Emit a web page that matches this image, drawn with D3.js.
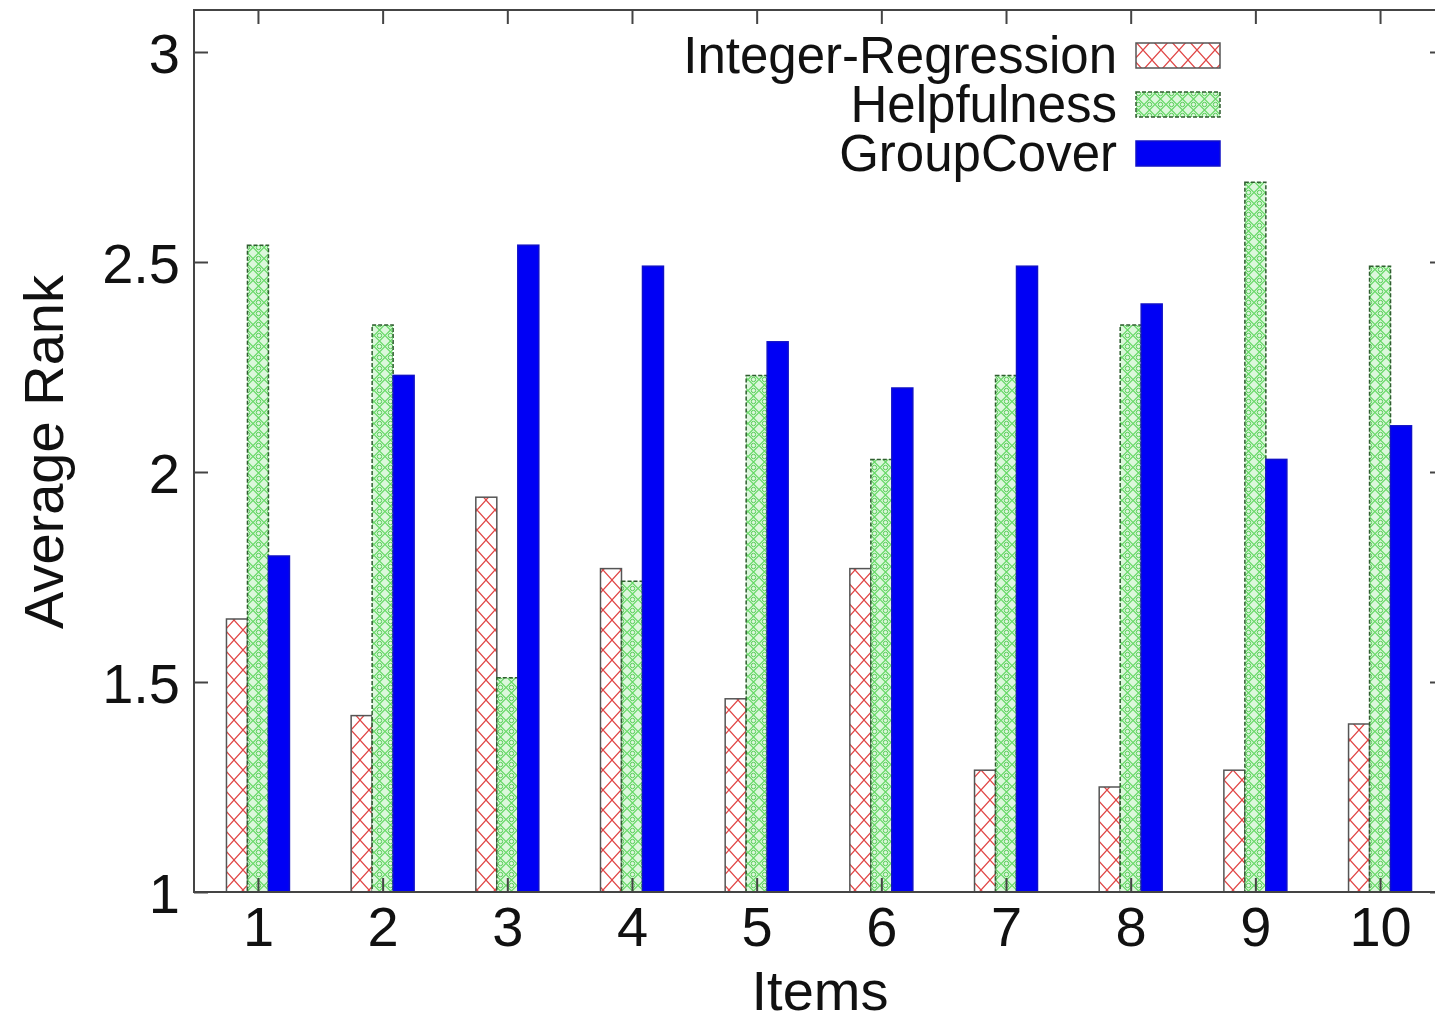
<!DOCTYPE html>
<html>
<head>
<meta charset="utf-8">
<script src="https://cdn.jsdelivr.net/npm/d3@7"></script>
<style>
  body { margin: 0; background: #fff; }
  svg { display: block; }
  text { font-family: "Liberation Sans", Arial, sans-serif; fill: #111; }
</style>
</head>
<body>
<svg id="chart" width="1435" height="1022"></svg>
<script>
// data
var items = [1, 2, 3, 4, 5, 6, 7, 8, 9, 10]
var seriesNames = ["Integer-Regression", "Helpfulness", "GroupCover"]
var integerRegression = [1.65, 1.42, 1.94, 1.77, 1.46, 1.77, 1.29, 1.25, 1.29, 1.40]
var helpfulness       = [2.54, 2.35, 1.51, 1.74, 2.23, 2.03, 2.23, 2.35, 2.69, 2.49]
var groupCover        = [1.80, 2.23, 2.54, 2.49, 2.31, 2.20, 2.49, 2.40, 2.03, 2.11]
var yTicks = [1, 1.5, 2, 2.5, 3]
var yTickLabels = ["1", "1.5", "2", "2.5", "3"]

var seriesValues = [integerRegression, helpfulness, groupCover]

var svg = d3.select("#chart")
// note: "top" is taken by window.top, so use plot* names
var plotLeft = 194, plotRight = 1444, plotTop = 10, plotBottom = 892

var x = d3.scaleLinear().domain([0.487, 10.513]).range([plotLeft, plotRight])
var y = d3.scaleLinear().domain([1, 3.1]).range([plotBottom, plotTop])
var groupW = x(1.2526) - x(0.7474)
var sub = d3.scaleBand().domain(seriesNames).range([-groupW / 2, groupW / 2])

// patterns
var defs = svg.append("defs")
var pr = defs.append("pattern").attr("id", "redHatch")
    .attr("patternUnits", "userSpaceOnUse").attr("width", 18).attr("height", 20)
pr.append("rect").attr("width", 18).attr("height", 20).attr("fill", "#fff")
pr.append("path").attr("d", "M0,0 L18,20 M18,0 L0,20")
    .attr("stroke", "#e04545").attr("stroke-width", 1.2).attr("fill", "none")

var pg = defs.append("pattern").attr("id", "greenHatch")
    .attr("patternUnits", "userSpaceOnUse").attr("width", 11).attr("height", 11)
pg.append("rect").attr("width", 11).attr("height", 11).attr("fill", "#dcf7dc")
pg.append("path").attr("d", "M0,5.5 L5.5,0 L11,5.5 L5.5,11 Z")
    .attr("stroke", "#66d966").attr("stroke-width", 1.2).attr("fill", "none")
pg.append("circle").attr("cx", 5.5).attr("cy", 5.5).attr("r", 2.2)
    .attr("fill", "none").attr("stroke", "#55cc55").attr("stroke-width", 1)

var fills = ["url(#redHatch)", "url(#greenHatch)", "#0000f5"]
var strokes = ["#555", "#2f5e2f", "#1010c8"]
var dashes = [null, "4,2", null]

// bars
var bars = svg.append("g")
seriesValues.forEach(function(vals, s) {
    bars.selectAll(".s" + s)
        .data(vals)
        .enter()
            .append("rect")
            .attr("x", function(d, i){ return x(items[i]) + sub(seriesNames[s]) })
            .attr("y", function(d){ return y(d) })
            .attr("width", sub.bandwidth())
            .attr("height", function(d){ return y(1) - y(d) })
            .attr("fill", fills[s])
            .attr("stroke", strokes[s])
            .attr("stroke-width", 1.5)
            .attr("stroke-dasharray", dashes[s])
})

// frame and mirrored ticks
var axisColor = "#444"
svg.append("rect").attr("x", plotLeft).attr("y", plotTop)
    .attr("width", plotRight - plotLeft).attr("height", plotBottom - plotTop)
    .attr("fill", "none").attr("stroke", axisColor).attr("stroke-width", 2)

var xAxis = svg.append("g").attr("transform", "translate(0," + plotBottom + ")")
    .call(d3.axisBottom(x).tickValues(items).tickSize(-14).tickPadding(14).tickFormat(d3.format("d")))
var xTop = svg.append("g").attr("transform", "translate(0," + plotTop + ")")
    .call(d3.axisTop(x).tickValues(items).tickSize(-14).tickFormat(""))
var yAxis = svg.append("g").attr("transform", "translate(" + plotLeft + ",0)")
    .call(d3.axisLeft(y).tickValues(yTicks).tickSize(-14).tickPadding(14)
        .tickFormat(function(d, i){ return yTickLabels[i] }))
var yRight = svg.append("g").attr("transform", "translate(" + plotRight + ",0)")
    .call(d3.axisRight(y).tickValues(yTicks).tickSize(-14).tickFormat(""))

;[xAxis, xTop, yAxis, yRight].forEach(function(g) {
    g.select(".domain").remove()
    g.selectAll(".tick line").attr("stroke", axisColor).attr("stroke-width", 2)
    g.selectAll(".tick text").style("font-family", "Liberation Sans, Arial, sans-serif")
        .attr("font-size", 56).attr("fill", "#111")
})
yAxis.selectAll(".tick text").attr("dy", "0.36em")

// axis titles
svg.append("text").attr("x", 820).attr("y", 1010)
    .attr("text-anchor", "middle").attr("font-size", 56).text("Items")
svg.append("text").attr("transform", "translate(63,452) rotate(-90)")
    .attr("text-anchor", "middle").attr("font-size", 56).text("Average Rank")

// legend
var legend = svg.append("g")
seriesNames.forEach(function(name, s) {
    var cy = 55 + s * 49
    legend.append("text").attr("x", 1117).attr("y", cy + 18)
        .attr("text-anchor", "end").attr("font-size", 51).text(name)
    legend.append("rect").attr("x", 1136).attr("y", cy - 12)
        .attr("width", 84).attr("height", 25)
        .attr("fill", fills[s]).attr("stroke", strokes[s])
        .attr("stroke-width", 1.5).attr("stroke-dasharray", dashes[s])
})
</script>
</body>
</html>
